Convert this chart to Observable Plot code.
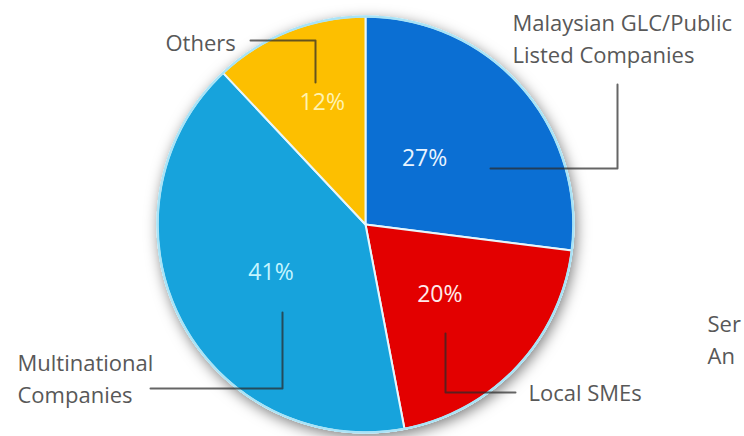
<!DOCTYPE html>
<html>
<head>
<meta charset="utf-8">
<script src="https://cdn.jsdelivr.net/npm/d3@7"></script>
<script src="https://cdn.jsdelivr.net/npm/@observablehq/plot@0.6"></script>
<style>
  html, body { margin: 0; padding: 0; background: #fff; overflow: hidden; }
  #chart { width: 744px; height: 436px; overflow: hidden; }
</style>
</head>
<body>
<div id="chart"></div>
<script>
// ---- data ----
const categories = ["Malaysian GLC/Public Listed Companies", "Local SMEs", "Multinational Companies", "Others"];
const shares = [27, 20, 41, 12];
const sliceColors = ["#0b6fd3", "#e30000", "#17a3dc", "#fdbf00"];
const valueLabels = ["27%", "20%", "41%", "12%"];
const valueLabelColors = ["#e9f4ff", "#ffeaea", "#c4f5ff", "#fff3b0"];
const outerLabels = ["Malaysian GLC/Public\nListed Companies", "Local SMEs", "Multinational\nCompanies", "Others"];
const extraLabel = ["Ser\nAn"];

// ---- layout ----
const W = 744, H = 436;
const cx = 365, cy = 224, R = 208;
const labelRadius = [0.43, 0.49, 0.51, 0.63];
const labelNudge = [[-8, -7], [0, 0], [0, 0], [5, 0]];
const outerLabelPos = [[512, 36], [528, 390], [17, 376], [165, 40]];
const leaders = [
  [[617, 84], [617, 168], [490, 168]],
  [[515, 392], [445, 392], [445, 333]],
  [[150, 388], [282, 388], [282, 312]],
  [[250, 40], [315, 40], [315, 82]]
];
const extraLabelPos = [707, 337];

// ---- geometry from data ----
const arcs = d3.pie().sort(null).value(d => d)(shares);
const pt = (a, r) => [cx + r * Math.sin(a), cy - r * Math.cos(a)];
const slicePolys = arcs.map((a, i) => {
  const pts = [{x: cx, y: cy}];
  const n = Math.max(2, Math.ceil((a.endAngle - a.startAngle) / (Math.PI / 180)));
  for (let j = 0; j <= n; j++) {
    const t = a.startAngle + (a.endAngle - a.startAngle) * j / n;
    const [x, y] = pt(t, R);
    pts.push({x, y});
  }
  return pts;
});
const valueData = arcs.map((a, i) => {
  const m = (a.startAngle + a.endAngle) / 2;
  const [x, y] = pt(m, R * labelRadius[i]);
  return {x, y, text: valueLabels[i], color: valueLabelColors[i], dx: labelNudge[i][0], dy: labelNudge[i][1]};
});
const outerData = outerLabels.map((t, i) => ({x: outerLabelPos[i][0], y: outerLabelPos[i][1], text: t}));
const leaderData = leaders.flatMap((l, i) => l.map(([x, y]) => ({k: i, x, y})));

const font = "'Open Sans', 'DejaVu Sans', sans-serif";

const plot = Plot.plot({
  width: W,
  height: H,
  margin: 0,
  x: {domain: [0, W], range: [0, W], axis: null},
  y: {domain: [0, H], range: [0, H], axis: null},
  style: {background: "#fff", fontFamily: font},
  marks: [
    Plot.dot([{x: cx, y: cy}], {x: "x", y: "y", r: R + 1, fill: "#ffffff", stroke: "none", ariaLabel: "shadow"}),
    ...slicePolys.map((p, i) => Plot.line(p, {x: "x", y: "y", fill: sliceColors[i], stroke: "#e6f6fc", strokeWidth: 2, curve: "linear-closed"})),
    Plot.dot([{x: cx, y: cy}], {x: "x", y: "y", r: R, fill: "none", stroke: "#a9e3f6", strokeWidth: 2.5}),
    Plot.line(leaderData, {x: "x", y: "y", z: "k", stroke: "#2a2a2a", strokeOpacity: 0.72, strokeWidth: 2}),
    ...valueData.map(d => Plot.text([d], {x: "x", y: "y", text: "text", fill: d.color, fontSize: 23, dx: d.dx, dy: d.dy, fontFamily: font})),
    Plot.text(outerData, {x: "x", y: "y", text: "text", fill: "#585858", fontSize: 22, textAnchor: "start", lineHeight: 1.45, fontFamily: font}),
    Plot.text(extraLabel, {x: () => extraLabelPos[0], y: () => extraLabelPos[1], text: d => d, fill: "#585858", fontSize: 22, textAnchor: "start", lineHeight: 1.45, fontFamily: font})
  ]
});
document.getElementById("chart").appendChild(plot);
// soft drop shadow under the pie
const svg = d3.select(plot);
const defs = svg.insert("defs", ":first-child");
const f = defs.append("filter").attr("id", "pieShadow").attr("x", "-20%").attr("y", "-20%").attr("width", "140%").attr("height", "140%");
f.append("feDropShadow").attr("dx", 2).attr("dy", 4).attr("stdDeviation", 7).attr("flood-color", "#000").attr("flood-opacity", 0.5);
const gs = plot.querySelectorAll("g");
gs.forEach(g => { if (g.getAttribute("aria-label") === "shadow") g.setAttribute("filter", "url(#pieShadow)"); });
if (gs.length && ![...gs].some(g => g.getAttribute("filter"))) {
  const c = plot.querySelector("circle");
  if (c) c.setAttribute("filter", "url(#pieShadow)");
}
</script>
</body>
</html>
